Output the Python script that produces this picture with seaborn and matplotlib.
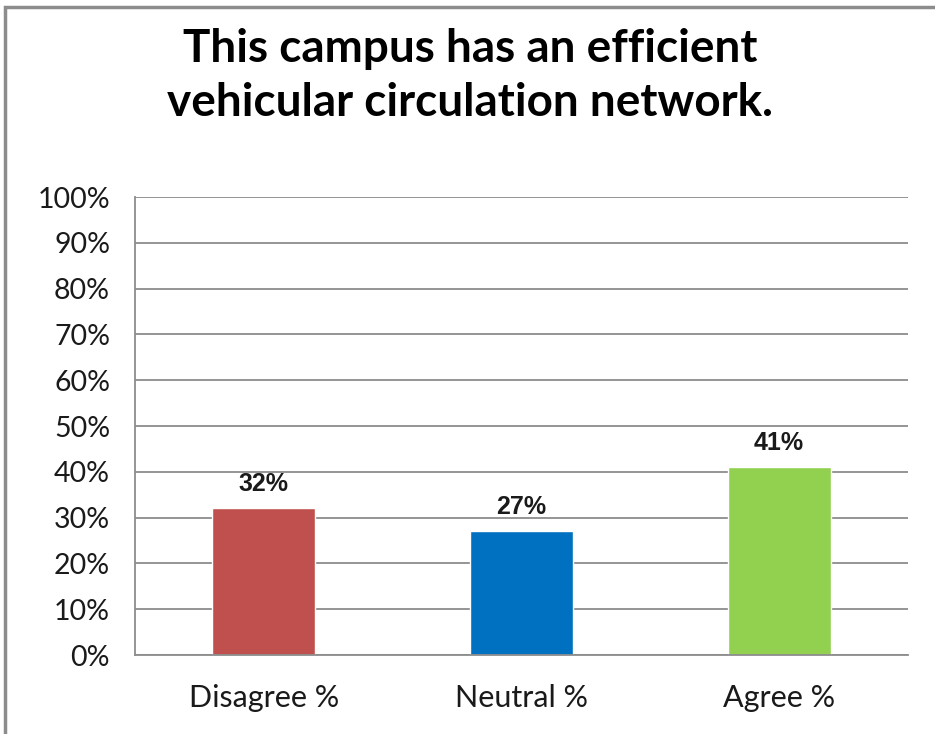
import matplotlib
matplotlib.use("Agg")
import matplotlib.pyplot as plt
import seaborn as sns
import pandas as pd
from matplotlib.patches import Rectangle
from matplotlib.ticker import FixedLocator, PercentFormatter

# --- Datos ---
categorias = ["Disagree %", "Neutral %", "Agree %"]
valores = [32, 27, 41]
colores = ["#C0504D", "#0070C0", "#92D050"]
titulo = "This campus has an efficient\nvehicular circulation network."

df = pd.DataFrame({"categoria": categorias, "valor": valores})

sns.set_style("white")
plt.rcParams["font.family"] = ["Lato", "DejaVu Sans"]

fig = plt.figure(figsize=(9.35, 7.34), dpi=100)
ax = fig.add_axes([0.1444, 0.1076, 0.8267, 0.624])

sns.barplot(data=df, x="categoria", y="valor", hue="categoria",
            palette=colores, width=0.4, legend=False, saturation=1, ax=ax)

ax.set_ylim(0, 100)
ax.set_xlim(-0.5, 2.5)
ax.set_yticks(range(0, 101, 10))
ax.yaxis.set_major_formatter(PercentFormatter(decimals=0))
ax.yaxis.grid(True, color="#8c8c8c", linewidth=1.3)
ax.set_axisbelow(True)

# marcas del eje x entre categorias
ax.xaxis.set_minor_locator(FixedLocator([-0.5, 0.5, 1.5, 2.5]))
ax.tick_params(axis="x", which="major", length=0, labelsize=22, pad=21, colors="#1a1a1a")
ax.tick_params(axis="x", which="minor", length=8, width=1.3, color="#8c8c8c", direction="out")
ax.tick_params(axis="y", which="major", length=6, width=1.3, color="#8c8c8c",
               direction="out", labelsize=20.5, pad=12, labelcolor="#1a1a1a")

for s in ["top", "right"]:
    ax.spines[s].set_visible(False)
for s in ["left", "bottom"]:
    ax.spines[s].set_color("#8c8c8c")
    ax.spines[s].set_linewidth(1.3)

ax.set_xlabel("")
ax.set_ylabel("")

# etiquetas de datos
for i, v in enumerate(valores):
    ax.annotate(f"{v}%", (i, v), xytext=(0, 9), textcoords="offset points",
                ha="center", va="bottom", fontsize=18, fontweight="bold",
                family="Liberation Sans", color="#1a1a1a")

fig.text(0.503, 0.897, titulo, ha="center", va="center", fontsize=33,
         fontweight="bold", linespacing=1.35, color="black")

# borde del grafico
fig.patches.append(Rectangle((5 / 935, -0.05), 1.1, 1.05 - 7 / 734,
                             transform=fig.transFigure, fill=False,
                             edgecolor="#8c8c8c", linewidth=2.5))

fig.savefig("out.png", dpi=100, facecolor="white")
